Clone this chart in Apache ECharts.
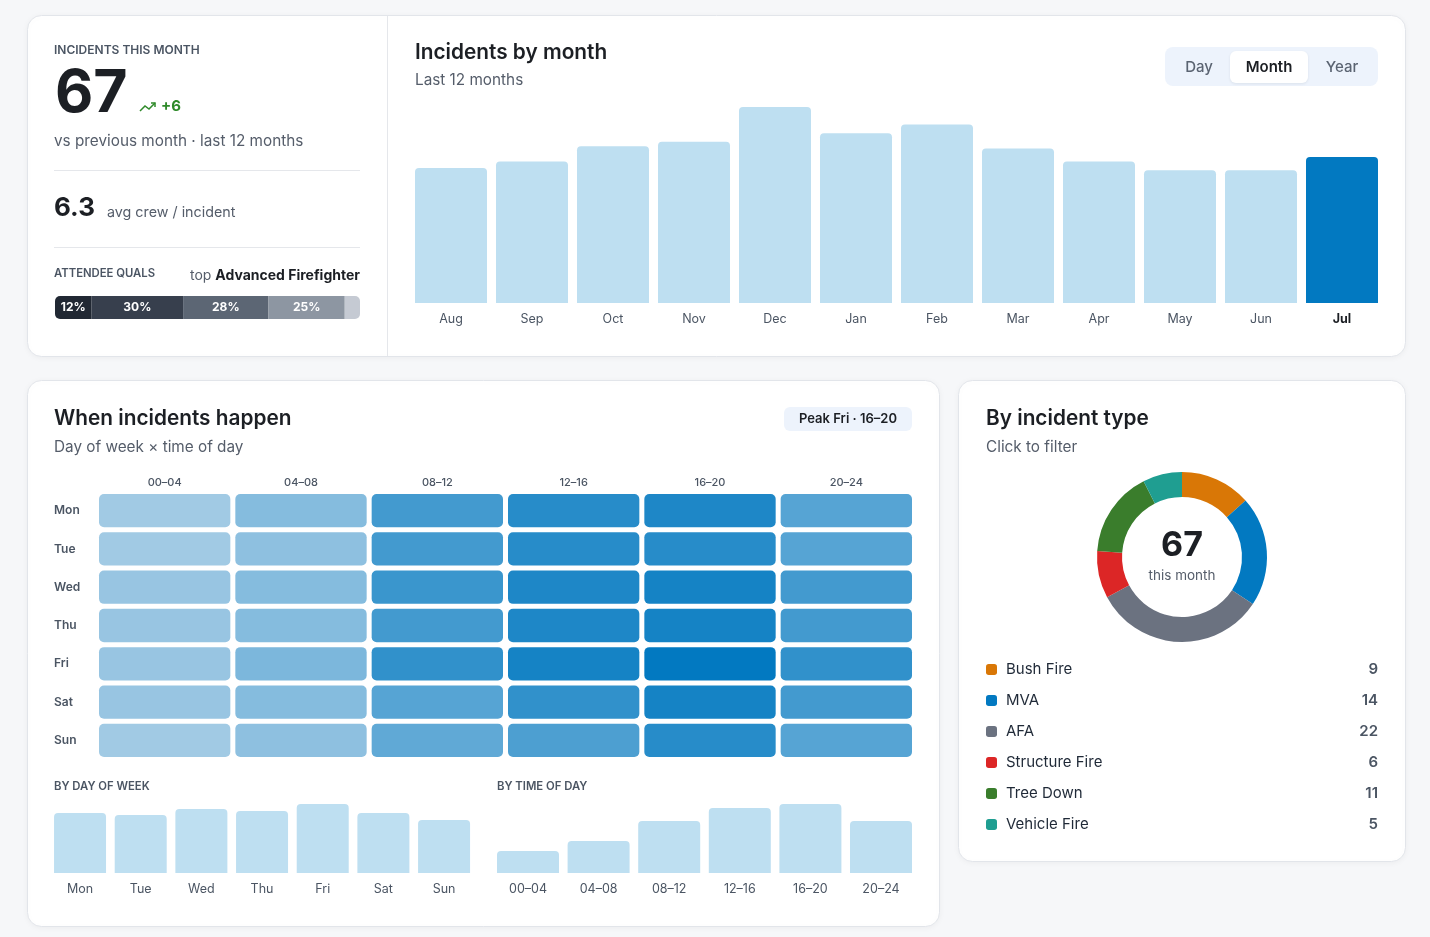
<!DOCTYPE html>
<html>
<head>
<meta charset="utf-8">
<script src="https://cdn.jsdelivr.net/npm/echarts@6/dist/echarts.min.js"></script>
<style>
  html, body { margin: 0; padding: 0; background: #f6f7f9; }
  #main { width: 1430px; height: 937px; }
</style>
</head>
<body>
<div id="main"></div>
<script>
// incidents dashboard, one echarts instance for the whole page

const FONT = 'Inter, "Noto Sans", sans-serif';
const INK = '#1c1f24';
const MUTED = '#555d6a';
const LIGHT_BAR = '#bedff1';
const ACCENT = '#0279c1';

// monthly counts, last 12 months
const months = ['Aug', 'Sep', 'Oct', 'Nov', 'Dec', 'Jan', 'Feb', 'Mar', 'Apr', 'May', 'Jun', 'Jul'];
const monthCounts = [62, 65, 72, 74, 90, 78, 82, 71, 65, 61, 61, 67];

// attendee quals share (%)
const qualShares = [12, 30, 28, 25, 5];

// heatmap: rows = days, cols = time slots
const days = ['Mon', 'Tue', 'Wed', 'Thu', 'Fri', 'Sat', 'Sun'];
const slots = ['00–04', '04–08', '08–12', '12–16', '16–20', '20–24'];
const heat = [
  [3, 6, 13, 16, 17, 11],
  [3, 5, 13, 16, 16, 11],
  [4, 6, 14, 17, 18, 13],
  [4, 6, 13, 17, 18, 13],
  [4, 7, 15, 18, 20, 15],
  [4, 6, 11, 15, 18, 13],
  [3, 5, 10, 12, 16, 11],
];

// small bars under the heatmap
const dayTotals = [60, 58, 64, 62, 69, 60, 53];
const slotTotals = [22, 32, 52, 65, 69, 52];

// incident types
const incidentTypes = ['Bush Fire', 'MVA', 'AFA', 'Structure Fire', 'Tree Down', 'Vehicle Fire'];
const incidentCounts = [9, 14, 22, 6, 11, 5];
const typeColors = ['#d97706', '#0279c1', '#6b7280', '#dc2626', '#3a7d2c', '#1f9e91'];

const chart = echarts.init(document.getElementById('main'), null, { renderer: 'canvas' });

function txt(text, x, y, font, fill, align) {
  return {
    type: 'text', z: 10,
    style: { text: text, x: x, y: y, font: font, fill: fill, align: align || 'left', verticalAlign: 'middle' },
  };
}
function card(x, y, w, h) {
  return {
    type: 'rect', z: 0,
    shape: { x: x + 0.5, y: y + 0.5, width: w, height: h, r: 14 },
    style: { fill: '#fff', stroke: '#e2e5ea', lineWidth: 1, shadowBlur: 6, shadowColor: 'rgba(16,24,40,0.05)', shadowOffsetY: 1 },
  };
}
function hline(x1, x2, y) {
  return { type: 'line', z: 5, shape: { x1: x1, y1: y + 0.5, x2: x2, y2: y + 0.5 }, style: { stroke: '#e5e7eb', lineWidth: 1 } };
}

const graphics = [
  card(27, 15, 1378, 341),
  card(27, 380, 912, 546),
  card(958, 380, 447, 481),
  { type: 'line', z: 5, shape: { x1: 387.5, y1: 16, x2: 387.5, y2: 356 }, style: { stroke: '#e5e7eb', lineWidth: 1 } },

  // kpi panel
  txt('INCIDENTS THIS MONTH', 54, 50, '600 12px ' + FONT, '#4b5563'),
  txt('67', 55, 94, '700 59px ' + FONT, INK),
  {
    type: 'polyline', z: 10,
    shape: { points: [[140, 111], [145, 106], [149, 109], [155, 103]] },
    style: { stroke: '#2f8a2a', lineWidth: 1.5, fill: null },
  },
  {
    type: 'polyline', z: 10,
    shape: { points: [[151, 103], [155, 103], [155, 107]] },
    style: { stroke: '#2f8a2a', lineWidth: 1.5, fill: null },
  },
  txt('+6', 161, 106, '700 15px ' + FONT, '#2f8a2a'),
  txt('vs previous month · last 12 months', 54, 141, '400 15.3px ' + FONT, MUTED),
  hline(54, 360, 170),
  txt('6.3', 54, 208, '700 26px ' + FONT, INK),
  txt('avg crew / incident', 107, 213, '400 14.3px ' + FONT, MUTED),
  hline(54, 360, 247),
  txt('ATTENDEE QUALS', 54, 274, '600 11.3px ' + FONT, '#4b5563'),
  {
    type: 'text', z: 10,
    style: {
      text: '{a|top }{b|Advanced Firefighter}', x: 360, y: 276, align: 'right', verticalAlign: 'middle',
      rich: {
        a: { font: '400 14px ' + FONT, fill: MUTED },
        b: { font: '700 14px ' + FONT, fill: INK },
      },
    },
  },

  // monthly bars header
  txt('Incidents by month', 415, 53, '600 20.8px ' + FONT, INK),
  txt('Last 12 months', 415, 80, '400 15.3px ' + FONT, MUTED),
  { type: 'rect', z: 5, shape: { x: 1165, y: 47, width: 213, height: 39, r: 8 }, style: { fill: '#edf3fc' } },
  {
    type: 'rect', z: 6, shape: { x: 1230, y: 51, width: 78, height: 32, r: 6 },
    style: { fill: '#fff', shadowBlur: 3, shadowColor: 'rgba(16,24,40,0.08)', shadowOffsetY: 1 },
  },
  txt('Day', 1199, 67, '500 15px ' + FONT, '#5b6472', 'center'),
  txt('Month', 1269, 67, '600 15px ' + FONT, INK, 'center'),
  txt('Year', 1342, 67, '500 15px ' + FONT, '#5b6472', 'center'),

  // heatmap card header
  txt('When incidents happen', 54, 419, '600 20.8px ' + FONT, INK),
  txt('Day of week × time of day', 54, 447, '400 15.3px ' + FONT, MUTED),
  { type: 'rect', z: 5, shape: { x: 784, y: 407, width: 128, height: 24, r: 6 }, style: { fill: '#edf3fc' } },
  txt('Peak Fri · 16–20', 848, 419, '600 13px ' + FONT, INK, 'center'),
  txt('BY DAY OF WEEK', 54, 787, '600 11.3px ' + FONT, '#4b5563'),
  txt('BY TIME OF DAY', 497, 787, '600 11.3px ' + FONT, '#4b5563'),

  // type card header
  txt('By incident type', 986, 419, '600 20.8px ' + FONT, INK),
  txt('Click to filter', 986, 447, '400 15.3px ' + FONT, MUTED),
  txt('67', 1182, 546, '700 34px ' + FONT, INK, 'center'),
  txt('this month', 1182, 576, '400 13.5px ' + FONT, MUTED, 'center'),
];

const qualColors = ['#212833', '#373f4d', '#5c6674', '#8d96a2', '#c5cad3'];
const qualSeries = qualShares.map((v, i) => ({
  type: 'bar', xAxisIndex: 1, yAxisIndex: 1, stack: 'q', barWidth: 23,
  data: [v], silent: true,
  itemStyle: {
    color: qualColors[i],
    borderRadius: i === 0 ? [5, 0, 0, 5] : i === qualShares.length - 1 ? [0, 5, 5, 0] : 0,
  },
  label: {
    show: i < qualShares.length - 1, formatter: '{c}%', color: '#fff',
    fontFamily: FONT, fontWeight: 700, fontSize: 12,
  },
}));

const catAxis = (data, gridIndex, extra) => Object.assign({
  type: 'category', gridIndex: gridIndex, data: data,
  axisLine: { show: false }, axisTick: { show: false }, splitLine: { show: false },
  axisLabel: { color: '#4b5563', fontFamily: FONT, fontSize: 12.5, margin: 10 },
}, extra || {});
const valAxis = (gridIndex, extra) => Object.assign({
  type: 'value', gridIndex: gridIndex, show: false, min: 0, max: 'dataMax',
}, extra || {});

// rounded heatmap cells, colour from the visualMap
function renderCell(params, api) {
  const c = api.coord([api.value(0), api.value(1)]);
  const s = api.size([1, 1]);
  const gap = 5;
  return {
    type: 'rect',
    shape: { x: c[0] - s[0] / 2 + gap / 2, y: c[1] - s[1] / 2 + gap / 2, width: s[0] - gap, height: s[1] - gap, r: 5 },
    style: { fill: api.visual('color') },
  };
}

const option = {
  animation: false,
  textStyle: { fontFamily: FONT },
  graphic: graphics,
  grid: [
    { left: 410.5, top: 107, width: 972, height: 196 },
    { left: 55, top: 296, width: 305, height: 23 },
    { left: 96.5, top: 491.5, width: 818, height: 268 },
    { left: 49.7, top: 804, width: 424.7, height: 69 },
    { left: 492.7, top: 804, width: 423.6, height: 69 },
  ],
  xAxis: [
    catAxis(months, 0, {
      axisLabel: {
        color: '#4b5563', fontFamily: FONT, fontSize: 12.5, margin: 10,
        formatter: (v) => (v === 'Jul' ? '{b|' + v + '}' : v),
        rich: { b: { fontFamily: FONT, fontSize: 12.5, fontWeight: 700, color: INK } },
      },
    }),
    valAxis(1, { max: 100 }),
    catAxis(slots, 2, {
      position: 'top',
      axisLabel: { color: '#4b5563', fontFamily: FONT, fontSize: 11, fontWeight: 500, margin: 3 },
    }),
    catAxis(days, 3),
    catAxis(slots, 4),
  ],
  yAxis: [
    valAxis(0),
    { type: 'category', gridIndex: 1, data: [''], show: false },
    catAxis(days, 2, {
      inverse: true,
      axisLabel: { color: '#4b5563', fontFamily: FONT, fontSize: 12, fontWeight: 600, align: 'left', margin: 42.5 },
    }),
    valAxis(3),
    valAxis(4),
  ],
  visualMap: {
    show: false, seriesIndex: 6, dimension: 2, min: 3, max: 20,
    inRange: { color: ['#a1cae4', ACCENT] },
  },
  legend: {
    orient: 'vertical', left: 981, top: 657, padding: 5,
    itemWidth: 11, itemHeight: 11, itemGap: 16, icon: 'roundRect',
    data: incidentTypes,
    formatter: (name) => '{n|' + name + '}{v|' + incidentCounts[incidentTypes.indexOf(name)] + '}',
    textStyle: {
      rich: {
        n: { fontFamily: FONT, fontSize: 15, color: '#1f2937', width: 326, padding: [0, 0, 0, 4] },
        v: { fontFamily: FONT, fontSize: 15, fontWeight: 600, color: '#4b5563', width: 46, align: 'right' },
      },
    },
  },
  series: [
    {
      type: 'bar', xAxisIndex: 0, yAxisIndex: 0, barWidth: 72, silent: true,
      data: monthCounts.map((v, i) => ({
        value: v,
        itemStyle: { color: i === monthCounts.length - 1 ? ACCENT : LIGHT_BAR },
      })),
      itemStyle: { borderRadius: [4, 4, 0, 0] },
    },
    ...qualSeries,
    {
      type: 'custom', xAxisIndex: 2, yAxisIndex: 2, silent: true,
      renderItem: renderCell,
      encode: { x: 0, y: 1 },
      data: heat.flatMap((row, d) => row.map((v, s) => [s, d, v])),
    },
    {
      type: 'bar', xAxisIndex: 3, yAxisIndex: 3, barWidth: 52, silent: true,
      data: dayTotals,
      itemStyle: { color: LIGHT_BAR, borderRadius: [4, 4, 0, 0] },
    },
    {
      type: 'bar', xAxisIndex: 4, yAxisIndex: 4, barWidth: 62, silent: true,
      data: slotTotals,
      itemStyle: { color: LIGHT_BAR, borderRadius: [4, 4, 0, 0] },
    },
    {
      type: 'pie', center: [1182, 557], radius: [60, 85], startAngle: 90, clockwise: true,
      label: { show: false }, labelLine: { show: false },
      emphasis: { scale: false },
      data: incidentTypes.map((name, i) => ({
        name: name, value: incidentCounts[i], itemStyle: { color: typeColors[i] },
      })),
    },
  ],
};

chart.setOption(option);
</script>
</body>
</html>
